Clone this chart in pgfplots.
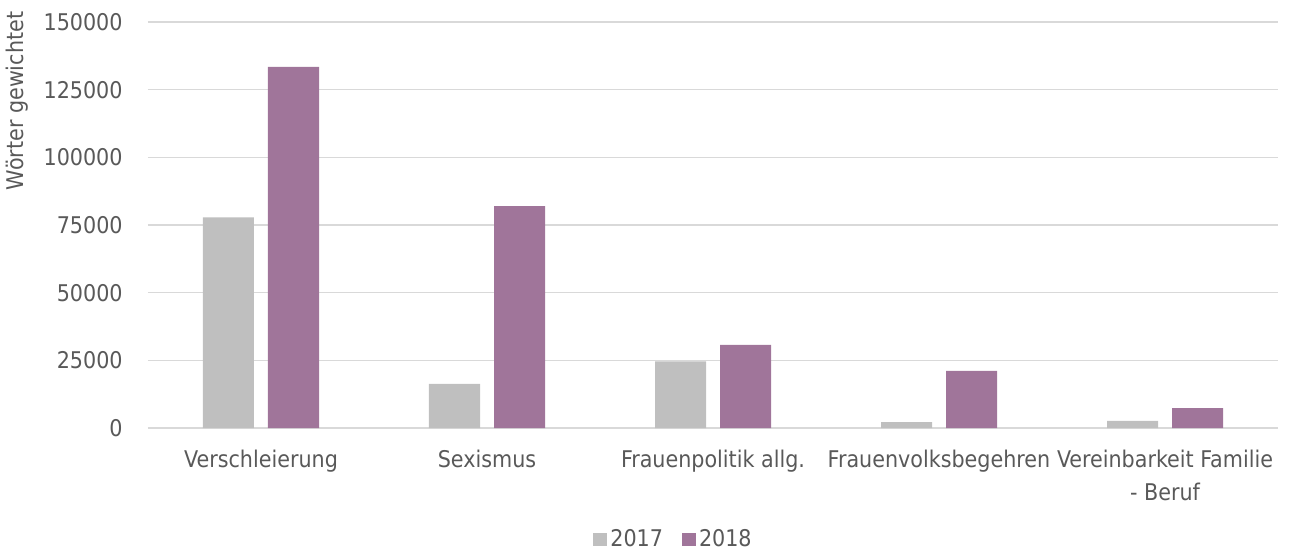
\documentclass[border=0pt]{standalone}
\usepackage{pgfplots}
\pgfplotsset{compat=1.18}
\usepackage{fontspec}
\setmainfont{DejaVu Sans Condensed}
\definecolor{cA}{RGB}{191,191,191}
\definecolor{cB}{RGB}{160,117,154}
\definecolor{tx}{RGB}{89,89,89}
\definecolor{gr}{RGB}{217,217,217}
\newcommand{\cf}{\fontsize{11.5}{16.5}\selectfont}
\begin{document}
\begin{tikzpicture}
\begin{axis}[name=ax, at={(0,0)}, anchor=south west,
  scale only axis, width=565pt, height=203pt,
  xmin=-0.5, xmax=4.5, ymin=0, ymax=150000,
  ytick={0,25000,50000,75000,100000,125000,150000},
  yticklabels={0,25000,50000,75000,100000,125000,150000},
  xtick={0,1,2,3,4},
  xticklabels={Verschleierung, Sexismus, Frauenpolitik allg., Frauenvolksbegehren, {Vereinbarkeit Familie\\- Beruf}},
  scaled y ticks=false,
  axis line style={draw=none},
  major tick length=0pt, tick style={draw=none},
  ymajorgrids, grid style={gr, line width=0.75pt},
  ybar, bar width=25.5pt,
  every tick label/.append style={font=\cf, text=tx},
  xticklabel style={anchor=north, inner sep=0pt, yshift=-11pt, align=center},
  yticklabel style={anchor=east, inner sep=0pt, xshift=-12.5pt},
  legend style={at={(0.4655,-0.275)}, anchor=center, draw=none, font=\cf, text=tx,
    legend columns=2, /tikz/every even column/.append style={column sep=8pt},
    nodes={inner sep=1.5pt}},
  legend image code/.code={\fill[#1] (0pt,-3.25pt) rectangle (7pt,3.25pt);},
]
\addplot[fill=cA, draw=none, bar shift=-16.25pt] coordinates {(0,77800) (1,16300) (2,24600) (3,2200) (4,2600)};
\addlegendentry{2017}
\addplot[fill=cB, draw=none, bar shift=16.25pt] coordinates {(0,133400) (1,82000) (2,30700) (3,21100) (4,7300)};
\addlegendentry{2018}
\end{axis}
\path (ax.south west) ++(-65.5pt,163.5pt) node[rotate=90, font=\cf, text=tx] {Wörter gewichtet};
\pgfresetboundingbox
\path (ax.south west) ++(-74pt,-61.5pt) rectangle ++(645pt,275.5pt);
\end{tikzpicture}
\end{document}
